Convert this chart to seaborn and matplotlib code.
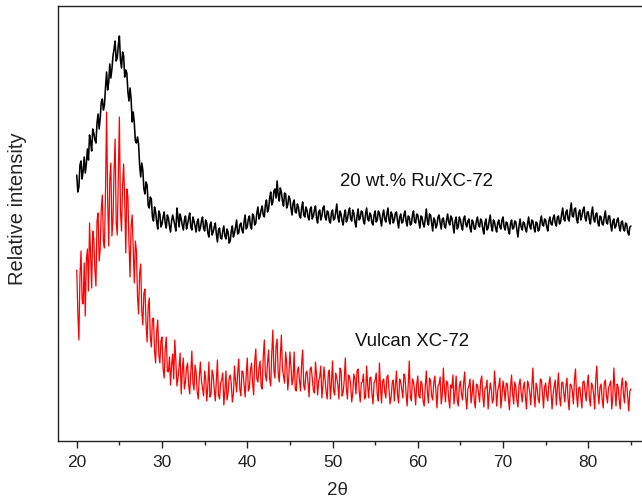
import numpy as np
import pandas as pd
import matplotlib
matplotlib.use("Agg")
import matplotlib.pyplot as plt
import seaborn as sns

# 2-theta range of the scans (deg), equally spaced readings
theta_start, theta_stop = 20.0, 85.0

# relative intensity (arb. units), 0.125 deg apart
ru_xc72 = [
    266, 249, 254, 276, 280, 262, 270, 284, 268, 277, 292, 281, 306, 299, 290, 312,
    308, 301, 298, 318, 327, 312, 323, 339, 342, 331, 336, 354, 369, 351, 359, 377,
    363, 372, 385, 392, 400, 380, 383, 396, 405, 381, 373, 389, 385, 364, 371, 368,
    349, 340, 353, 342, 319, 329, 318, 300, 298, 304, 297, 276, 264, 278, 271, 252,
    247, 259, 256, 236, 233, 244, 242, 224, 220, 234, 229, 219, 212, 230, 227, 214,
    217, 224, 229, 218, 213, 226, 223, 215, 209, 220, 226, 221, 216, 210, 233, 224,
    214, 227, 222, 216, 211, 221, 225, 212, 217, 223, 228, 214, 211, 224, 220, 215,
    209, 219, 222, 210, 213, 220, 224, 213, 210, 221, 218, 208, 204, 216, 219, 206,
    209, 214, 218, 207, 199, 211, 213, 203, 202, 210, 215, 205, 202, 212, 209, 198,
    200, 210, 215, 204, 208, 214, 221, 207, 208, 216, 218, 211, 208, 219, 226, 212,
    214, 222, 225, 215, 212, 227, 225, 216, 218, 228, 234, 222, 225, 231, 235, 226,
    224, 236, 241, 229, 232, 243, 249, 236, 239, 250, 252, 243, 260, 246, 240, 253,
    249, 240, 235, 248, 247, 233, 236, 245, 242, 233, 226, 238, 241, 229, 228, 237,
    234, 225, 223, 233, 239, 226, 224, 234, 231, 224, 221, 232, 234, 222, 225, 231,
    235, 223, 218, 229, 231, 221, 225, 233, 235, 224, 221, 230, 229, 220, 218, 228,
    231, 221, 222, 229, 237, 224, 219, 230, 227, 220, 216, 226, 231, 219, 222, 229,
    233, 222, 220, 231, 228, 219, 214, 225, 232, 221, 223, 230, 229, 220, 217, 227,
    233, 222, 220, 228, 226, 218, 216, 226, 230, 219, 221, 230, 228, 221, 215, 226,
    231, 222, 219, 227, 233, 221, 217, 229, 226, 218, 221, 228, 229, 220, 213, 224,
    227, 218, 219, 226, 230, 220, 215, 225, 224, 216, 217, 226, 230, 219, 218, 227,
    226, 219, 213, 225, 224, 217, 214, 222, 232, 220, 216, 227, 226, 218, 210, 223,
    221, 213, 216, 224, 226, 218, 212, 222, 223, 215, 213, 221, 227, 219, 216, 225,
    223, 216, 208, 220, 224, 212, 214, 224, 221, 215, 211, 222, 225, 217, 214, 220,
    222, 213, 209, 221, 219, 212, 212, 220, 224, 216, 214, 222, 220, 212, 207, 218,
    222, 211, 213, 220, 226, 215, 210, 221, 219, 213, 209, 218, 221, 214, 212, 221,
    224, 214, 211, 219, 218, 211, 207, 217, 221, 212, 213, 220, 219, 211, 204, 215,
    222, 214, 211, 219, 218, 212, 209, 217, 224, 215, 212, 221, 220, 213, 209, 219,
    218, 210, 211, 220, 225, 216, 215, 222, 221, 214, 210, 220, 224, 217, 216, 223,
    226, 218, 215, 224, 225, 217, 219, 227, 233, 222, 220, 229, 231, 222, 220, 230,
    238, 225, 224, 232, 233, 222, 218, 228, 231, 221, 225, 231, 234, 223, 220, 229,
    229, 221, 217, 228, 234, 222, 219, 227, 228, 218, 215, 225, 224, 217, 216, 224,
    230, 219, 217, 225, 225, 216, 210, 220, 222, 213, 215, 221, 223, 214, 210, 219,
    220, 212, 210, 218, 217, 209, 206, 214, 215,
]
vulcan_xc72 = [
    171, 128, 101, 165, 190, 142, 137, 178, 125, 181, 192, 150, 218, 186, 153, 210,
    202, 171, 155, 220, 228, 180, 192, 232, 246, 199, 193, 252, 329, 240, 195, 262,
    278, 205, 221, 270, 302, 218, 206, 265, 324, 230, 210, 256, 277, 240, 188, 252,
    244, 198, 164, 215, 226, 192, 158, 200, 190, 145, 127, 168, 177, 130, 116, 148,
    152, 118, 99, 134, 143, 104, 94, 122, 123, 90, 78, 110, 121, 86, 78, 100,
    104, 72, 63, 92, 104, 70, 69, 84, 56, 76, 87, 62, 101, 80, 55, 63,
    74, 88, 47, 70, 83, 52, 59, 73, 78, 56, 47, 68, 90, 58, 51, 76,
    69, 49, 42, 64, 79, 60, 53, 45, 70, 62, 40, 55, 79, 44, 47, 71,
    66, 52, 40, 60, 81, 46, 42, 58, 61, 68, 36, 50, 70, 41, 48, 63,
    66, 57, 39, 47, 75, 60, 49, 68, 82, 52, 45, 70, 69, 56, 44, 66,
    83, 50, 53, 71, 78, 58, 46, 80, 92, 62, 59, 73, 80, 55, 52, 84,
    101, 66, 60, 78, 91, 62, 55, 88, 111, 70, 63, 95, 102, 68, 59, 84,
    106, 72, 65, 58, 89, 78, 51, 64, 89, 75, 56, 62, 89, 52, 50, 70,
    74, 60, 50, 77, 91, 55, 51, 68, 70, 58, 44, 72, 74, 63, 51, 48,
    79, 66, 46, 60, 64, 75, 43, 55, 74, 62, 49, 42, 67, 71, 42, 58,
    80, 50, 46, 68, 63, 56, 42, 73, 70, 45, 49, 61, 83, 52, 42, 66,
    64, 57, 39, 48, 67, 62, 47, 70, 72, 50, 39, 58, 59, 67, 42, 44,
    75, 55, 43, 63, 64, 47, 37, 58, 61, 68, 46, 40, 78, 54, 38, 60,
    62, 49, 43, 64, 66, 52, 37, 44, 58, 61, 40, 55, 70, 46, 38, 62,
    59, 51, 43, 67, 64, 48, 35, 56, 80, 44, 40, 62, 59, 50, 36, 57,
    65, 45, 43, 60, 57, 40, 35, 54, 70, 49, 38, 63, 60, 45, 41, 58,
    65, 50, 33, 55, 57, 64, 37, 46, 73, 52, 39, 60, 58, 42, 33, 56,
    53, 66, 37, 48, 65, 41, 35, 55, 60, 47, 41, 58, 69, 44, 32, 52,
    55, 62, 38, 47, 61, 40, 33, 57, 56, 48, 39, 60, 65, 45, 34, 53,
    53, 61, 32, 47, 58, 52, 38, 42, 70, 55, 35, 50, 55, 63, 33, 45,
    60, 52, 40, 58, 57, 43, 31, 54, 66, 47, 37, 59, 54, 41, 34, 56,
    62, 48, 39, 53, 59, 44, 32, 60, 56, 49, 36, 55, 73, 46, 34, 58,
    53, 42, 38, 62, 61, 48, 33, 54, 58, 45, 40, 57, 64, 50, 32, 47,
    55, 61, 36, 52, 68, 44, 35, 58, 59, 48, 39, 55, 63, 42, 31, 57,
    56, 50, 37, 61, 72, 46, 34, 53, 54, 44, 33, 59, 60, 49, 40, 56,
    66, 43, 35, 58, 55, 47, 32, 62, 75, 48, 37, 54, 57, 42, 33, 58,
    61, 46, 38, 53, 56, 60, 32, 44, 73, 51, 35, 57, 54, 41, 32, 55,
    63, 47, 38, 60, 57, 43, 30, 50, 52,
]


def scan_frame(values):
    # readings are equally spaced between theta_start and theta_stop
    theta = np.linspace(theta_start, theta_stop, len(values))
    return pd.DataFrame({"2theta": theta, "intensity": values})


df_ru = scan_frame(ru_xc72)
df_vulcan = scan_frame(vulcan_xc72)

sns.set_style("ticks")
plt.rcParams["font.family"] = ["Liberation Sans", "DejaVu Sans"]

fig = plt.figure(figsize=(6.42, 5.04), dpi=100)
ax = fig.add_axes([58 / 642, 63 / 504, 584 / 642, 435 / 504])

sns.lineplot(data=df_ru, x="2theta", y="intensity", color="black", lw=1.15,
             estimator=None, ax=ax)
sns.lineplot(data=df_vulcan, x="2theta", y="intensity", color="#ff0000", lw=0.9,
             estimator=None, ax=ax)

ax.set_xlim(17.8, 86.3)
ax.set_ylim(0, 435)
ax.set_xticks(np.arange(20, 81, 10))
ax.set_xticks(np.arange(25, 86, 10), minor=True)
ax.set_yticks([])
ax.tick_params(axis="x", which="major", direction="out", length=5, width=1,
               labelsize=12.5, pad=5, colors="#222222")
ax.tick_params(axis="x", which="minor", direction="out", length=3, width=1,
               colors="#222222")
ax.spines["right"].set_visible(False)
for side in ["left", "bottom", "top"]:
    ax.spines[side].set_linewidth(1.0)
    ax.spines[side].set_color("#222222")

ax.set_xlabel("2θ", fontsize=13.5)
ax.xaxis.set_label_coords(0.479, -0.094)
ax.set_ylabel("Relative intensity", fontsize=14.5)
ax.yaxis.set_label_coords(-0.053, 0.533)

ax.text(50.9, 259, "20 wt.% Ru/XC-72", fontsize=13.4, va="center", ha="left",
        color="#111111")
ax.text(52.6, 99, "Vulcan XC-72", fontsize=13.4, va="center", ha="left",
        color="#111111")

fig.savefig("out.png", dpi=100)
